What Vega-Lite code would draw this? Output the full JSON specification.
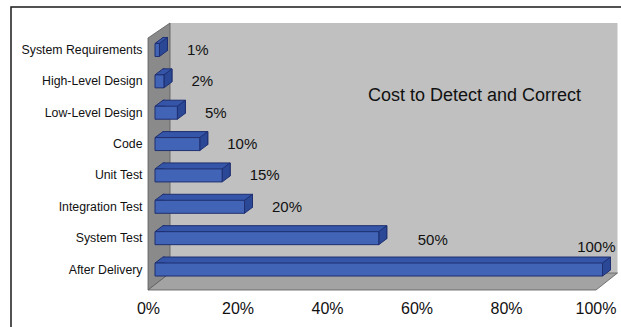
{
  "$schema": "https://vega.github.io/schema/vega-lite/v6.json",
  "width": 447.5,
  "height": 250,
  "autosize": {"type": "none"},
  "padding": {"left": 170, "top": 23, "right": 3.5, "bottom": 54},
  "background": "white",
  "config": {
    "view": {"fill": "#c0c0c0", "stroke": null},
    "font": "Liberation Sans"
  },
  "title": {
    "text": "Cost to Detect and Correct",
    "anchor": "start",
    "frame": "group",
    "orient": "top",
    "offset": 0,
    "dx": 198,
    "dy": 115.4,
    "baseline": "alphabetic",
    "fontSize": 18,
    "fontWeight": "normal",
    "color": "#111111",
    "font": "Liberation Sans"
  },
  "data": {
    "values": [
      {"stage": "System Requirements", "cost": 0.01},
      {"stage": "High-Level Design", "cost": 0.02},
      {"stage": "Low-Level Design", "cost": 0.05},
      {"stage": "Code", "cost": 0.10},
      {"stage": "Unit Test", "cost": 0.15},
      {"stage": "Integration Test", "cost": 0.20},
      {"stage": "System Test", "cost": 0.50},
      {"stage": "After Delivery", "cost": 1.00}
    ]
  },
  "layer": [
    {
      "data": {"values": [{}]},
      "mark": {"type": "point", "shape": "M-159,185L-159,-141L460,-141", "size": 4, "filled": false, "stroke": "#1a1a1a", "strokeWidth": 1.5, "opacity": 1},
      "encoding": {"x": {"datum": 0, "type": "quantitative"}}
    },
    {
      "data": {"values": [{}]},
      "mark": {"type": "point", "shape": "M-22,-110L0,-125L0,125L-22,142Z", "size": 4, "filled": true, "fill": "#8a8a8a", "stroke": "#5a5a5a", "strokeWidth": 0.8, "opacity": 1},
      "encoding": {"x": {"datum": 0, "type": "quantitative"}}
    },
    {
      "data": {"values": [{}]},
      "mark": {"type": "point", "shape": "M-22,142L426,142L447.5,125L0,125Z", "size": 4, "filled": true, "fill": "#a3a3a3", "stroke": "#5a5a5a", "strokeWidth": 0.8, "opacity": 1},
      "encoding": {"x": {"datum": 0, "type": "quantitative"}}
    },
    {
      "encoding": {
        "x": {
          "field": "cost",
          "type": "quantitative",
          "scale": {"domain": [0, 1], "nice": false, "zero": true},
          "axis": {
            "values": [0, 0.2, 0.4, 0.6, 0.8, 1],
            "format": ".0%",
            "title": null,
            "labelOffset": -22,
            "labelPadding": 40.3,
            "labelBaseline": "alphabetic",
            "ticks": false,
            "tickSize": 0,
            "domain": false,
            "grid": false,
            "labelFontSize": 16,
            "labelColor": "#111111",
            "labelFlush": false,
            "labelOverlap": false
          }
        },
        "y": {
          "field": "stage",
          "type": "nominal",
          "sort": null,
          "scale": {
            "domain": ["System Requirements", "High-Level Design", "Low-Level Design", "Code", "Unit Test", "Integration Test", "System Test", "After Delivery"],
            "range": [11.3, 262.2],
            "paddingInner": 0,
            "paddingOuter": 0
          },
          "axis": {
            "title": null,
            "ticks": false,
            "tickSize": 0,
            "domain": false,
            "grid": false,
            "labelPadding": 28,
            "labelFontSize": 12.3,
            "labelColor": "#111111",
            "labelLimit": 200
          }
        }
      },
      "layer": [
        {
          "mark": {"type": "bar", "height": 13, "xOffset": -7, "x2Offset": -7, "yOffset": -6, "fill": "#3455a8", "stroke": "#1f2f70", "strokeWidth": 1}
        },
        {
          "mark": {"type": "point", "shape": "M-5.5,-6.5L-15,-6.5L-7,-12.5L-5.5,-12.5", "size": 4, "filled": true, "fill": "#3455a8", "stroke": "#1f2f70", "strokeWidth": 1, "opacity": 1},
          "encoding": {"x": {"datum": 0, "type": "quantitative"}}
        },
        {
          "mark": {"type": "point", "shape": "M-15,-6.5L-7,-12.5L-7,0.5L-15,6.5Z", "size": 4, "filled": true, "fill": "#2a4896", "stroke": "#1f2f70", "strokeWidth": 1, "opacity": 1}
        },
        {
          "mark": {"type": "bar", "height": 13, "xOffset": -15, "x2Offset": -15, "fill": "#4264b6", "stroke": "#1f2f70", "strokeWidth": 1}
        },
        {
          "transform": [{"filter": "datum.cost < 0.5"}],
          "mark": {"type": "text", "align": "left", "baseline": "alphabetic", "dx": 12.5, "dy": 5, "fontSize": 15, "color": "#111111"},
          "encoding": {"text": {"field": "cost", "type": "quantitative", "format": ".0%"}}
        },
        {
          "transform": [{"filter": "datum.cost == 0.5"}],
          "mark": {"type": "text", "align": "left", "baseline": "alphabetic", "dx": 24, "dy": 7, "fontSize": 15, "color": "#111111"},
          "encoding": {"text": {"field": "cost", "type": "quantitative", "format": ".0%"}}
        },
        {
          "transform": [{"filter": "datum.cost == 1"}],
          "mark": {"type": "text", "align": "right", "baseline": "alphabetic", "dx": -2, "dy": -18, "fontSize": 15, "color": "#111111"},
          "encoding": {"text": {"field": "cost", "type": "quantitative", "format": ".0%"}}
        }
      ]
    }
  ]
}
